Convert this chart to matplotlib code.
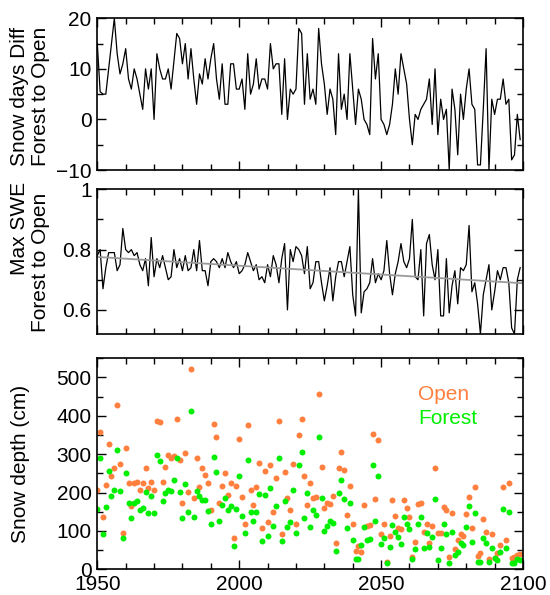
import numpy as np
import matplotlib
matplotlib.use('Agg')
import matplotlib.pyplot as plt
from matplotlib.ticker import MultipleLocator, FixedLocator, FuncFormatter

plt.rcParams['font.family'] = ['Liberation Sans', 'DejaVu Sans']

years = np.arange(1950, 2100)

snow_days_diff = [
    15, 5.5, 5, 5, 10, 15, 20, 13, 9, 11,
    14, 8, 6, 10, 8, 5, 2, 10, 6, 10,
    0, 13, 10, 8, 8, 10, 6, 11.5, 17, 16,
    11, 15, 8, 14, 8, 3, 9, 7, 12, 8,
    12, 15, 8, 4, 11, 3, 3, 11, 11, 6,
    6, 8, 2, 13, 5, 7, 12, 6, 8, 8,
    6, 15, 10, 11, 11, 1, 12, 0, 6, 5,
    6, 18, 17, 3, 13, 4, 6, 3, 18, 11,
    7, 1, 6, 4, -3, 13, 2, 5, 0, 13,
    6, -1, 6, 4, 0, -1, -3, 16, 8, 13,
    0, -1, -3, -1, 3, 10, 5, 13, 10, 7,
    0, -5, 1, 0, 2, 3, 4, 8, -1, 10,
    -3, 4, 0, 2, -10, 6, 2, -7, 5, 0,
    6, 10, 3, 2, -9, -9, 2, 14, -10, 4,
    1, 4, 4, 8, 3, 4, -8, -7, 1, -4,
]

max_swe_ratio = [
    0.78, 0.80, 0.67, 0.74, 0.79, 0.79, 0.79, 0.73, 0.75, 0.87,
    0.80, 0.79, 0.80, 0.78, 0.79, 0.75, 0.73, 0.77, 0.68, 0.84,
    0.71, 0.77, 0.74, 0.78, 0.74, 0.70, 0.71, 0.80, 0.74, 0.77,
    0.73, 0.78, 0.73, 0.74, 0.80, 0.73, 0.83, 0.73, 0.73, 0.68,
    0.76, 0.77, 0.76, 0.74, 0.77, 0.74, 0.79, 0.76, 0.74, 0.76,
    0.72, 0.73, 0.75, 0.79, 0.76, 0.73, 0.75, 0.70, 0.71, 0.69,
    0.75, 0.71, 0.78, 0.75, 0.69, 0.77, 0.82, 0.60, 0.80, 0.76,
    0.81, 0.80, 0.78, 0.72, 0.81, 0.67, 0.69, 0.76, 0.76, 0.69,
    0.63, 0.68, 0.74, 0.63, 0.71, 0.76, 0.76, 0.71, 0.76, 0.81,
    0.65, 0.58, 1.00, 0.59, 0.66, 0.67, 0.69, 0.77, 0.69, 0.72,
    0.70, 0.73, 0.83, 0.72, 0.65, 0.72, 0.76, 0.82, 0.76, 0.74,
    0.77, 0.90, 0.71, 0.70, 0.80, 0.58, 0.82, 0.85, 0.75, 0.70,
    0.80, 0.58, 0.58, 0.77, 0.59, 0.68, 0.73, 0.62, 0.74, 0.73,
    0.75, 0.88, 0.66, 0.69, 0.62, 0.52, 0.65, 0.70, 0.75, 0.60,
    0.66, 0.73, 0.70, 0.74, 0.74, 0.69, 0.54, 0.52, 0.70, 0.74,
]

depth_open = [
    208, 358, 137, 220, 326, 243, 263, 428, 274, 94,
    315, 224, 166, 226, 228, 207, 224, 263, 213, 228,
    207, 387, 385, 228, 267, 298, 289, 295, 391, 285,
    172, 302, 202, 521, 185, 289, 215, 263, 246, 226,
    155, 380, 344, 174, 217, 252, 194, 224, 81, 217,
    339, 189, 118, 375, 207, 168, 214, 278, 107, 257,
    122, 272, 150, 239, 386, 92, 254, 185, 155, 274,
    118, 350, 391, 243, 168, 226, 185, 188, 457, 267,
    159, 172, 170, 192, 69, 263, 305, 259, 141, 217,
    118, 49, 62, 46, 168, 114, 115, 352, 183, 337,
    92, 117, 18, 87, 180, 139, 107, 105, 180, 160,
    136, 31, 72, 169, 174, 96, 117, 69, 113, 263,
    94, 95, 162, 155, 31, 148, 52, 76, 91, 87,
    144, 188, 107, 214, 35, 43, 130, 98, 26, 92,
    29, 42, 63, 214, 76, 226, 29, 31, 36, 39,
]

depth_forest = [
    156, 291, 91, 163, 257, 191, 207, 312, 205, 81,
    252, 174, 133, 172, 179, 155, 161, 202, 146, 192,
    146, 298, 282, 179, 198, 207, 205, 234, 289, 202,
    133, 222, 150, 412, 137, 204, 192, 181, 181, 152,
    118, 293, 254, 126, 168, 185, 155, 165, 62, 156,
    244, 139, 94, 286, 150, 126, 150, 196, 75, 194,
    88, 213, 114, 165, 289, 75, 179, 111, 122, 208,
    95, 273, 306, 133, 198, 111, 155, 141, 344, 187,
    100, 113, 126, 120, 49, 200, 233, 182, 107, 174,
    76, 27, 27, 63, 111, 76, 79, 271, 126, 244,
    65, 82, 16, 59, 115, 98, 83, 66, 137, 118,
    104, 27, 52, 118, 137, 56, 94, 59, 83, 182,
    23, 55, 118, 92, 17, 98, 37, 46, 68, 63,
    109, 165, 70, 146, 20, 20, 82, 68, 20, 55,
    29, 24, 44, 157, 56, 150, 16, 16, 26, 23,
]

swe_fit = np.polyfit(years, max_swe_ratio, 1)
trend_x = np.array([1950, 2100])

W, H = 550, 595
fig = plt.figure(figsize=(W / 100, H / 100), dpi=100)

def box(x0, y0, x1, y1):
    return [x0 / W, 1 - y1 / H, (x1 - x0) / W, (y1 - y0) / H]

ax1 = fig.add_axes(box(97.3, 18.3, 523, 170))
ax2 = fig.add_axes(box(97.3, 189.3, 523, 334))
ax3 = fig.add_axes(box(97.3, 358.3, 523, 569.3))

FS = 15
ORANGE = '#FF7F3F'
GREEN = '#00EE00'
for ax in (ax1, ax2, ax3):
    ax.set_xlim(1950, 2100)
    ax.xaxis.set_major_locator(MultipleLocator(50))
    ax.xaxis.set_minor_locator(MultipleLocator(10))
    ax.tick_params(which='both', direction='in', top=True, right=True,
                   width=1.0, labelsize=FS, colors='black', pad=4)
    ax.tick_params(which='major', length=6.5)
    ax.tick_params(which='minor', length=4.3)
    for s in ax.spines.values():
        s.set_linewidth(1.2)

ax1.plot(years, snow_days_diff, color='black', lw=0.9)
ax1.set_ylim(-10, 20)
ax1.yaxis.set_major_locator(MultipleLocator(10))
ax1.yaxis.set_minor_locator(MultipleLocator(5))
ax1.tick_params(axis='x', labelbottom=False)

ax2.plot(years, max_swe_ratio, color='black', lw=0.9)
ax2.plot(trend_x, np.polyval(swe_fit, trend_x), color='#999999', lw=1.3)
ax2.set_ylim(0.52, 1.0)
ax2.yaxis.set_major_locator(FixedLocator([0.6, 0.8, 1.0]))
ax2.yaxis.set_minor_locator(FixedLocator([0.7, 0.9]))
ax2.yaxis.set_major_formatter(FuncFormatter(lambda v, p: '1' if abs(v - 1) < 1e-9 else f'{v:.1f}'))
ax2.tick_params(axis='x', labelbottom=False)

ax3.plot(years, depth_open, 'o', color=ORANGE, ms=4.3, mew=0)
ax3.plot(years, depth_forest, 'o', color=GREEN, ms=4.3, mew=0)
ax3.set_ylim(0, 550)
ax3.yaxis.set_major_locator(MultipleLocator(100))
ax3.yaxis.set_minor_locator(MultipleLocator(50))

def ylab(text, xc, yc):
    fig.text(xc / W, 1 - yc / H, text, rotation=90, ha='center', va='center', fontsize=FS)

ylab('Snow days Diff', 20, 96)
ylab('Forest to Open', 41, 96)
ylab('Max SWE', 20, 228)
ylab('Forest to Open', 41, 262)
ylab('Snow depth (cm)', 21, 464)

fig.text(418 / W, 1 - 395 / H, 'Open', color=ORANGE, fontsize=FS, va='center', ha='left')
fig.text(418 / W, 1 - 418 / H, 'Forest', color=GREEN, fontsize=FS, va='center', ha='left')

fig.savefig('out.png', dpi=100)
